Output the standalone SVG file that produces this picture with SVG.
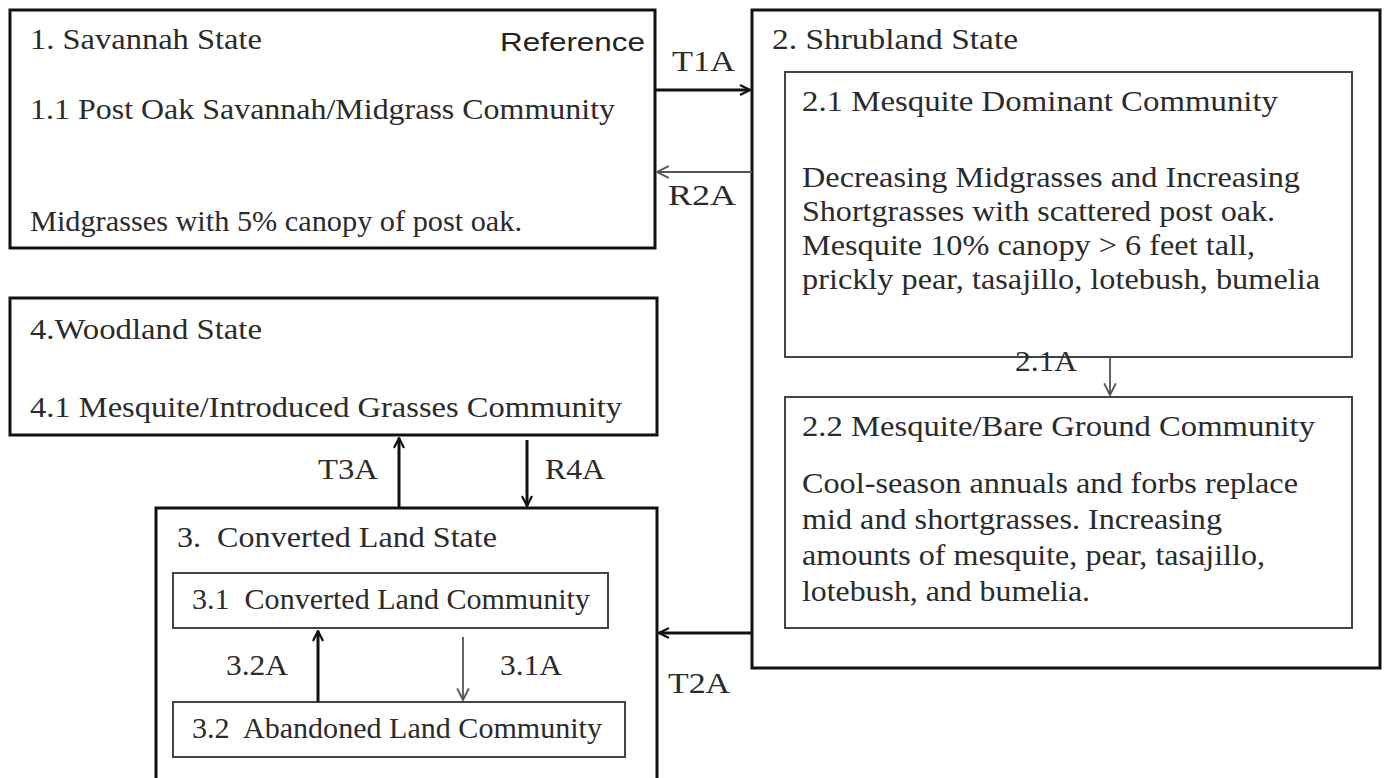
<svg xmlns="http://www.w3.org/2000/svg" width="1385" height="778" viewBox="0 0 1385 778">
<defs>
<style>
text{font-family:"Liberation Serif","Times New Roman",serif;font-size:29px;fill:#2b2b2b}
.sans{font-family:"Liberation Sans",Arial,sans-serif;font-size:26px;fill:#222}
.outer{fill:#fff;stroke:#111;stroke-width:3}
.inner{fill:#fff;stroke:#444;stroke-width:2}
.thick{stroke:#111;stroke-width:3;fill:none}
.thin{stroke:#555;stroke-width:1.8;fill:none}
</style>
<marker id="ah" viewBox="0 0 12 12" refX="11" refY="6" markerWidth="12" markerHeight="12" markerUnits="userSpaceOnUse" orient="auto">
<path d="M1,1 L11,6 L1,11" fill="none" stroke="#111" stroke-width="2.2"/>
</marker>
<marker id="ahs" viewBox="0 0 12 12" refX="11" refY="6" markerWidth="14" markerHeight="14" markerUnits="userSpaceOnUse" orient="auto">
<path d="M1,1 L11,6 L1,11" fill="none" stroke="#555" stroke-width="1.6"/>
</marker>
</defs>
<rect width="1385" height="778" fill="#fff"/>

<g id="n1">
<rect class="outer" x="10" y="10" width="645" height="238"/>
<text x="30" y="49" textLength="232" lengthAdjust="spacingAndGlyphs">1. Savannah State</text>
<text class="sans" x="500" y="51" textLength="145" lengthAdjust="spacingAndGlyphs">Reference</text>
<text x="30" y="119" textLength="585" lengthAdjust="spacingAndGlyphs">1.1 Post Oak Savannah/Midgrass Community</text>
<text x="30" y="231" textLength="492" lengthAdjust="spacingAndGlyphs">Midgrasses with 5% canopy of post oak.</text>
</g>

<g id="n2">
<rect class="outer" x="752" y="10" width="628" height="658"/>
<text x="772" y="49" textLength="246" lengthAdjust="spacingAndGlyphs">2. Shrubland State</text>
</g>

<g id="n21">
<rect class="inner" x="785" y="72" width="567" height="285"/>
<text x="802" y="111" textLength="476" lengthAdjust="spacingAndGlyphs">2.1 Mesquite Dominant Community</text>
<text x="802" y="187" textLength="498" lengthAdjust="spacingAndGlyphs">Decreasing Midgrasses and Increasing</text>
<text x="802" y="221" textLength="473" lengthAdjust="spacingAndGlyphs">Shortgrasses with scattered post oak.</text>
<text x="802" y="255" textLength="453" lengthAdjust="spacingAndGlyphs">Mesquite 10% canopy &gt; 6 feet tall,</text>
<text x="802" y="289" textLength="518" lengthAdjust="spacingAndGlyphs">prickly pear, tasajillo, lotebush, bumelia</text>
</g>

<g id="n22">
<rect class="inner" x="785" y="397" width="567" height="231"/>
<text x="802" y="436" textLength="513" lengthAdjust="spacingAndGlyphs">2.2 Mesquite/Bare Ground Community</text>
<text x="802" y="493" textLength="496" lengthAdjust="spacingAndGlyphs">Cool-season annuals and forbs replace</text>
<text x="802" y="529" textLength="420" lengthAdjust="spacingAndGlyphs">mid and shortgrasses. Increasing</text>
<text x="802" y="565" textLength="463" lengthAdjust="spacingAndGlyphs">amounts of mesquite, pear, tasajillo,</text>
<text x="802" y="601" textLength="288" lengthAdjust="spacingAndGlyphs">lotebush, and bumelia.</text>
</g>

<g id="n4">
<rect class="outer" x="10" y="298" width="647" height="137"/>
<text x="30" y="339" textLength="232" lengthAdjust="spacingAndGlyphs">4.Woodland State</text>
<text x="30" y="417" textLength="592" lengthAdjust="spacingAndGlyphs">4.1 Mesquite/Introduced Grasses Community</text>
</g>

<g id="n3">
<rect class="outer" x="156" y="508" width="501" height="290"/>
<text x="177" y="547" textLength="320" lengthAdjust="spacingAndGlyphs" xml:space="preserve">3.  Converted Land State</text>
</g>

<g id="n31">
<rect class="inner" x="173" y="573" width="435" height="55"/>
<text x="192" y="609" textLength="398" lengthAdjust="spacingAndGlyphs" xml:space="preserve">3.1  Converted Land Community</text>
</g>

<g id="n32">
<rect class="inner" x="173" y="702" width="452" height="55"/>
<text x="192" y="738" textLength="410" lengthAdjust="spacingAndGlyphs" xml:space="preserve">3.2  Abandoned Land Community</text>
</g>

<g id="connectors">
<line class="thick" x1="655" y1="90" x2="750" y2="90" marker-end="url(#ah)"/>
<line class="thin" x1="752" y1="172" x2="657" y2="172" marker-end="url(#ahs)"/>
<line class="thin" x1="1110" y1="357" x2="1110" y2="395" marker-end="url(#ahs)"/>
<line class="thick" x1="752" y1="633" x2="659" y2="633" marker-end="url(#ah)"/>
<line class="thick" x1="399" y1="508" x2="399" y2="438" marker-end="url(#ah)"/>
<line class="thick" x1="527" y1="440" x2="527" y2="506" marker-end="url(#ah)"/>
<line class="thick" x1="318" y1="702" x2="318" y2="631" marker-end="url(#ah)"/>
<line class="thin" x1="463" y1="637" x2="463" y2="700" marker-end="url(#ahs)"/>
<text x="672" y="71" textLength="63" lengthAdjust="spacingAndGlyphs">T1A</text>
<text x="668" y="205" textLength="68" lengthAdjust="spacingAndGlyphs">R2A</text>
<text x="1015" y="371" textLength="62" lengthAdjust="spacingAndGlyphs">2.1A</text>
<text x="668" y="693" textLength="62" lengthAdjust="spacingAndGlyphs">T2A</text>
<text x="318" y="479" textLength="60" lengthAdjust="spacingAndGlyphs">T3A</text>
<text x="545" y="479" textLength="60" lengthAdjust="spacingAndGlyphs">R4A</text>
<text x="226" y="675" textLength="62" lengthAdjust="spacingAndGlyphs">3.2A</text>
<text x="500" y="675" textLength="62" lengthAdjust="spacingAndGlyphs">3.1A</text>
</g>
</svg>
